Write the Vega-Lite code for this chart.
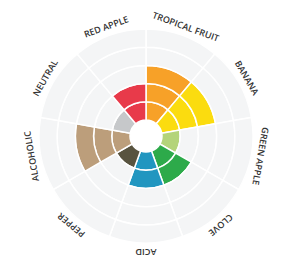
{
  "$schema": "https://vega.github.io/schema/vega-lite/v6.json",
  "width": 292,
  "height": 272,
  "autosize": "none",
  "padding": 0,
  "background": "white",
  "config": {"view": {"stroke": null}},
  "data": {"values": [
    {"flavor": "TROPICAL FRUIT", "pos": 1, "level": 3},
    {"flavor": "BANANA", "pos": 2, "level": 3},
    {"flavor": "GREEN APPLE", "pos": 3, "level": 1},
    {"flavor": "CLOVE", "pos": 4, "level": 2},
    {"flavor": "ACID", "pos": 5, "level": 2},
    {"flavor": "PEPPER", "pos": 6, "level": 1},
    {"flavor": "ALCOHOLIC", "pos": 7, "level": 3},
    {"flavor": "NEUTRAL", "pos": 8, "level": 1},
    {"flavor": "RED APPLE", "pos": 9, "level": 2}
  ]},
  "encoding": {
    "theta": {"aggregate": "count", "type": "quantitative", "stack": true},
    "order": {"field": "pos", "type": "quantitative"},
    "detail": [{"field": "flavor", "type": "nominal"}, {"field": "level", "type": "quantitative"}]
  },
  "layer": [
    {
      "mark": {"type": "arc", "stroke": "white", "strokeWidth": 1.5},
      "encoding": {
        "radius": {"datum": 1, "type": "quantitative", "scale": {"type": "linear", "domain": [0, 5], "range": [16, 107]}},
        "radius2": {"datum": 0},
        "color": {"condition": {"test": "datum.level >= 1", "field": "flavor", "type": "nominal", "legend": null,
          "scale": {"domain": ["TROPICAL FRUIT", "BANANA", "GREEN APPLE", "CLOVE", "ACID", "PEPPER", "ALCOHOLIC", "NEUTRAL", "RED APPLE"],
                    "range": ["#F7A128", "#FBDC0F", "#B4D47A", "#2DAA4A", "#2196C0", "#58533F", "#BC9E7B", "#C6C8CA", "#E83A4A"]}},
          "value": "#F4F5F6"}
      }
    },
    {
      "mark": {"type": "arc", "stroke": "white", "strokeWidth": 1.5},
      "encoding": {
        "radius": {"datum": 2, "type": "quantitative"},
        "radius2": {"datum": 1},
        "color": {"condition": {"test": "datum.level >= 2", "field": "flavor", "type": "nominal", "legend": null}, "value": "#F4F5F6"}
      }
    },
    {
      "mark": {"type": "arc", "stroke": "white", "strokeWidth": 1.5},
      "encoding": {
        "radius": {"datum": 3, "type": "quantitative"},
        "radius2": {"datum": 2},
        "color": {"condition": {"test": "datum.level >= 3", "field": "flavor", "type": "nominal", "legend": null}, "value": "#F4F5F6"}
      }
    },
    {
      "mark": {"type": "arc", "stroke": "white", "strokeWidth": 1.5},
      "encoding": {
        "radius": {"datum": 4, "type": "quantitative"},
        "radius2": {"datum": 3},
        "color": {"condition": {"test": "datum.level >= 4", "field": "flavor", "type": "nominal", "legend": null}, "value": "#F4F5F6"}
      }
    },
    {
      "mark": {"type": "arc", "stroke": "white", "strokeWidth": 1.5},
      "encoding": {
        "radius": {"datum": 5, "type": "quantitative"},
        "radius2": {"datum": 4},
        "color": {"condition": {"test": "datum.level >= 5", "field": "flavor", "type": "nominal", "legend": null}, "value": "#F4F5F6"}
      }
    },
    {
      "mark": {"type": "text", "font": "Open Sans", "fontSize": 9, "fontWeight": 600, "color": "#333333", "align": "center", "baseline": "middle"},
      "encoding": {
        "radius": {"datum": 5.5, "type": "quantitative"},
        "text": {"field": "flavor", "type": "nominal"},
        "angle": {"field": "pos", "type": "quantitative", "scale": {"domain": [0.5, 9.5], "range": [0, 360]}, "legend": null}
      }
    }
  ]
}
